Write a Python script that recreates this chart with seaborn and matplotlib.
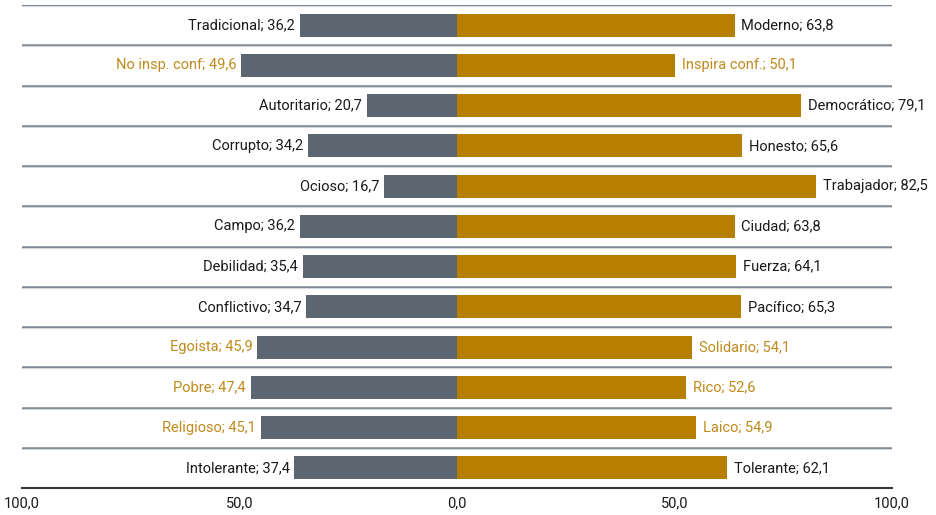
import matplotlib
matplotlib.use("Agg")
import matplotlib.pyplot as plt
import seaborn as sns
import pandas as pd

left_labels = ["Tradicional", "No insp. conf", "Autoritario", "Corrupto", "Ocioso", "Campo",
               "Debilidad", "Conflictivo", "Egoista", "Pobre", "Religioso", "Intolerante"]
left_values = [36.2, 49.6, 20.7, 34.2, 16.7, 36.2, 35.4, 34.7, 45.9, 47.4, 45.1, 37.4]
right_labels = ["Moderno", "Inspira conf.", "Democrático", "Honesto", "Trabajador", "Ciudad",
                "Fuerza", "Pacífico", "Solidario", "Rico", "Laico", "Tolerante"]
right_values = [63.8, 50.1, 79.1, 65.6, 82.5, 63.8, 64.1, 65.3, 54.1, 52.6, 54.9, 62.1]
highlight = [False, True, False, False, False, False, False, False, True, True, True, False]
tick_values = [-100, -50, 0, 50, 100]
tick_labels = ["100,0", "50,0", "0,0", "50,0", "100,0"]

GREY = "#5c6670"
GOLD = "#b77f00"
GOLD_TXT = "#c08a1c"

sns.set_theme(style="white")
plt.rcParams["font.family"] = ["Roboto", "DejaVu Sans"]

rows = [f"r{i}" for i in range(len(left_values))]
df = pd.DataFrame({"row": rows,
                   "left": [-v for v in left_values],
                   "right": right_values})

fig = plt.figure(figsize=(9.36, 5.15), dpi=100)
ax = fig.add_axes([22/936, 1 - 488/515, (892-22)/936, (488-5)/515])

sns.barplot(data=df, y="row", x="left", orient="h", color=GREY, width=0.57,
            saturation=1, linewidth=0, edgecolor="none", ax=ax)
sns.barplot(data=df, y="row", x="right", orient="h", color=GOLD, width=0.57,
            saturation=1, linewidth=0, edgecolor="none", ax=ax)

ax.set_xlim(-100, 100)
ax.set_ylim(len(rows) - 0.5, -0.5)

for b in [i - 0.5 for i in range(len(rows) + 1)]:
    if b < len(rows) - 0.5:
        ax.axhline(b, color="#7d868f", lw=1.8, zorder=0)
        ax.axhline(b + 0.025, color="#d5d9dd", lw=0.8, zorder=0)

def fmt(v):
    return f"{v:.1f}".replace(".", ",")

for i in range(len(rows)):
    c = GOLD_TXT if highlight[i] else "#1a1a1a"
    ax.text(-left_values[i] - 1.1, i, f"{left_labels[i]}; {fmt(left_values[i])}",
            ha="right", va="center", fontsize=10.5, color=c)
    ax.text(right_values[i] + 1.6, i, f"{right_labels[i]}; {fmt(right_values[i])}",
            ha="left", va="center", fontsize=10.5, color=c)

ax.set_xticks(tick_values)
ax.set_xticklabels(tick_labels, fontsize=10.5, color="#1a1a1a")
ax.tick_params(axis="x", length=0, pad=6)
ax.set_yticks([])
ax.set_xlabel("")
ax.set_ylabel("")
for s in ["top", "left", "right"]:
    ax.spines[s].set_visible(False)
ax.spines["bottom"].set_color("#333a40")
ax.spines["bottom"].set_linewidth(1.5)

fig.savefig("out.png", dpi=100)
